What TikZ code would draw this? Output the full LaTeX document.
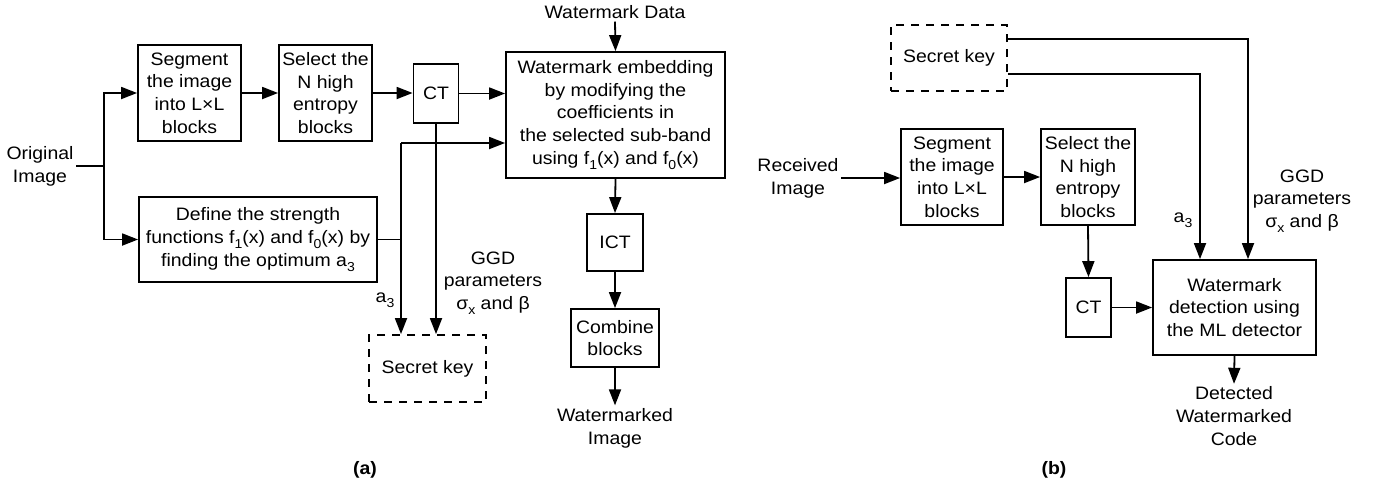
\documentclass[tikz,border=0pt]{standalone}
\usepackage{fontspec}
\setmainfont[FakeStretch=1.08]{Liberation Sans}
\usetikzlibrary{arrows.meta}
\newcommand\mysub[1]{\raisebox{-5pt}{\fontsize{13}{13}\selectfont #1}}
\begin{document}
\begin{tikzpicture}[x=1pt,y=-1pt,
  font=\fontsize{18}{22.7}\selectfont,
  line width=1.8pt,
  box/.style={draw, inner sep=0pt, align=center},
  dbox/.style={box, dash pattern=on 8pt off 7pt},
  lbl/.style={inner sep=2pt, align=center},
  arr/.style={-{Triangle[length=16pt,width=12pt]}}]
\useasboundingbox (0,0) rectangle (1380,488);

% ---------- (a) ----------
\node[lbl] (orig) at (40,166) {Original\\Image};
\node[box, minimum width=103pt, minimum height=96pt] (seg1) at (189.5,93) {Segment\\the image\\into L×L\\blocks};
\node[box, minimum width=93pt, minimum height=96pt] (sel1) at (325.5,93) {Select the\\N high\\entropy\\blocks};
\node[box, minimum width=45pt, minimum height=59pt] (ct1) at (436,93.5) {CT};
\node[box, minimum width=219pt, minimum height=126pt] (emb) at (615.5,115) {Watermark embedding\\by modifying the\\coefficients in\\the selected sub-band\\using f\mysub{1}(x) and f\mysub{0}(x)};
\node[box, minimum width=238pt, minimum height=85pt] (def) at (258,239.5) {Define the strength\\functions f\mysub{1}(x) and f\mysub{0}(x) by\\finding the optimum a\mysub{3}};
\node[box, minimum width=56pt, minimum height=57pt] (ict) at (615,242.5) {ICT};
\node[box, minimum width=88pt, minimum height=58pt] (comb) at (615,338) {Combine\\blocks};
\node[dbox, minimum width=117pt, minimum height=67pt] (sk1) at (427.5,368.5) {Secret key};
\node[lbl] (wmdata) at (615,12) {Watermark Data};
\node[lbl] (ggd1) at (493,283) {GGD\\parameters\\σ\mysub{x} and β};
\node[lbl] (a3l) at (385,300) {a\mysub{3}};
\node[lbl] (wmimg) at (615,428) {Watermarked\\Image};
\node[lbl, font=\fontsize{18}{22.7}\selectfont\bfseries] (capa) at (365,470) {(a)};

\coordinate (br1) at (104,166);
\coordinate (c1) at (401,143);
\draw (orig.east) -- (br1);
\draw[arr] (br1) |- (seg1.west);
\draw[arr] (br1) |- (def.west);
\draw[arr] (seg1) -- (sel1);
\draw[arr] (sel1.east) -- (sel1.east -| ct1.west);
\draw[arr] (ct1.east) -- (ct1.east -| emb.west);
\draw (def.east) -- (def.east -| c1);
\draw[arr] (c1) -- (c1 -| emb.west);
\draw[arr] (c1) -- (c1 |- sk1.north);
\draw[arr] (ct1.south) -- (ct1.south |- sk1.north);
\draw[arr] (wmdata.south) -- (emb.north);
\draw[arr] (emb.south) -- (ict.north);
\draw[arr] (ict.south) -- (comb.north);
\draw[arr] (comb.south) -- (wmimg.north);

% ---------- (b) ----------
\node[dbox, minimum width=116pt, minimum height=66pt] (sk2) at (949,58) {Secret key};
\node[lbl] (recv) at (798,178) {Received\\Image};
\node[box, minimum width=102pt, minimum height=96pt] (seg2) at (952,177) {Segment\\the image\\into L×L\\blocks};
\node[box, minimum width=94pt, minimum height=96pt] (sel2) at (1088,177) {Select the\\N high\\entropy\\blocks};
\node[box, minimum width=45pt, minimum height=59pt] (ct2) at (1088.5,307.5) {CT};
\node[box, minimum width=163pt, minimum height=95pt] (det) at (1234.5,307.5) {Watermark\\detection using\\the ML detector};
\node[lbl] (a3r) at (1183,220) {a\mysub{3}};
\node[lbl] (ggd2) at (1302,201) {GGD\\parameters\\σ\mysub{x} and β};
\node[lbl] (detcode) at (1234,416) {Detected\\Watermarked\\Code};
\node[lbl, font=\fontsize{18}{22.7}\selectfont\bfseries] (capb) at (1054,470) {(b)};

\coordinate (k1) at (1248,39);
\coordinate (k2) at (1200,74);
\draw[arr] (sk2.east |- k1) -- (k1) -- (k1 |- det.north);
\draw[arr] (sk2.east |- k2) -- (k2) -- (k2 |- det.north);
\draw[arr] (recv.east) -- (recv.east -| seg2.west);
\draw[arr] (seg2) -- (sel2);
\draw[arr] (sel2.south) -- (ct2.north);
\draw[arr] (ct2.east) -- (ct2.east -| det.west);
\draw[arr] (det.south) -- (detcode.north);
\end{tikzpicture}
\end{document}
